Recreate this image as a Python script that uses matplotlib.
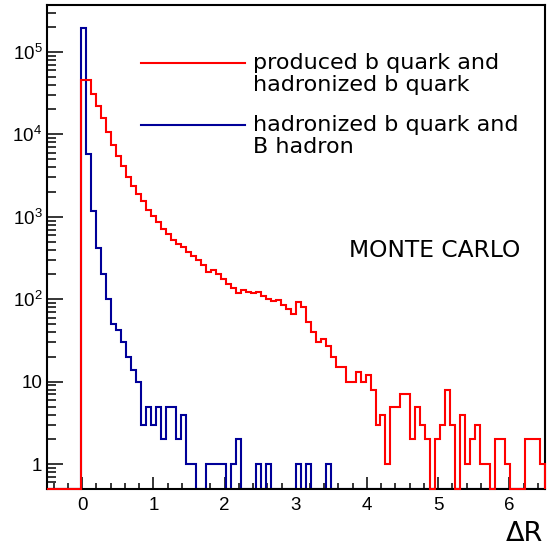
import numpy as np
import matplotlib
matplotlib.use('Agg')
import matplotlib.pyplot as plt
from matplotlib.lines import Line2D
from matplotlib.ticker import FixedLocator, FixedFormatter, LogLocator, NullFormatter, MultipleLocator

# ---- data -------------------------------------------------------------
x_min, x_max, n_bins = -0.5, 6.5, 100

red_counts = [
    0, 0, 0, 0, 0, 0, 0, 45000, 45000, 30500,
    21800, 15700, 10700, 7500, 5500, 4080, 3030, 2380, 1880, 1560,
    1210, 1020, 860, 715, 620, 530, 470, 425, 370, 335,
    300, 260, 213, 225, 200, 175, 155, 136, 118, 129,
    123, 120, 123, 109, 101, 96, 98, 85, 77, 66,
    92, 81, 53, 40, 30, 33, 27, 20, 15, 15,
    10, 10, 13, 10, 12, 8, 3, 4, 1, 5,
    5, 7, 7, 2, 5, 3, 2, 0, 2, 3,
    8, 3, 0, 4, 1, 2, 3, 1, 1, 0,
    2, 2, 1, 0, 0, 0, 2, 2, 2, 1,
]

blue_counts = [
    0, 0, 0, 0, 0, 0, 0, 196000, 5800, 1160,
    415, 202, 100, 50, 42, 30, 20, 14, 10, 3,
    5, 3, 5, 2, 5, 5, 2, 4, 1, 1,
    0, 0, 1, 1, 1, 1, 0, 1, 2, 0,
    0, 0, 1, 0, 1, 0, 0, 0, 0, 0,
    1, 0, 1, 0, 0, 0, 1, 0, 0, 0,
    0, 0, 0, 0, 0, 0, 0, 0, 0, 0,
    0, 0, 0, 0, 0, 0, 0, 0, 0, 0,
    0, 0, 0, 0, 0, 0, 0, 0, 0, 0,
    0, 0, 0, 0, 0, 0, 0, 0, 0, 0,
]

x_tick_values = [0, 1, 2, 3, 4, 5, 6]
x_tick_labels = ['0', '1', '2', '3', '4', '5', '6']
y_tick_values = [1, 10, 100, 1000, 1e4, 1e5]
y_tick_labels = ['1', '10', r'$\mathregular{10^{2}}$', r'$\mathregular{10^{3}}$',
                 r'$\mathregular{10^{4}}$', r'$\mathregular{10^{5}}$']

legend_red = ['produced b quark and', 'hadronized b quark']
legend_blue = ['hadronized b quark and', 'B hadron']
annotation = 'MONTE CARLO'
x_title = 'ΔR'

# ---- style ------------------------------------------------------------
plt.rcParams['mathtext.fontset'] = 'custom'
plt.rcParams['mathtext.rm'] = 'Liberation Sans'
plt.rcParams['mathtext.it'] = 'Liberation Sans:italic'

RED = '#ff0000'
BLUE = '#000099'
y_lo, y_hi = 0.5, 3.7e5
W, H = 548, 546

fig = plt.figure(figsize=(W / 100, H / 100), dpi=100)
ax = fig.add_axes([46.5 / W, 57 / H, 498.5 / W, 484 / H])
ax.set_yscale('log')
ax.set_xlim(x_min, x_max)
ax.set_ylim(y_lo, y_hi)

edges = np.linspace(x_min, x_max, n_bins + 1)
blue_y = np.maximum(np.asarray(blue_counts, float), y_lo)
red_y = np.maximum(np.asarray(red_counts, float), y_lo)
ax.stairs(blue_y, edges, baseline=y_lo, color=BLUE, lw=1.5, zorder=2)
ax.stairs(red_y, edges, baseline=y_lo, color=RED, lw=1.5, zorder=3, clip_on=False)

for s in ax.spines.values():
    s.set_linewidth(1.5)

ax.xaxis.set_major_locator(FixedLocator(x_tick_values))
ax.xaxis.set_major_formatter(FixedFormatter(x_tick_labels))
ax.xaxis.set_minor_locator(MultipleLocator(0.2))
ax.yaxis.set_major_locator(FixedLocator(y_tick_values))
ax.yaxis.set_major_formatter(FixedFormatter(y_tick_labels))
ax.yaxis.set_minor_locator(LogLocator(base=10, subs=np.arange(2, 10), numticks=50))
ax.yaxis.set_minor_formatter(NullFormatter())

ax.tick_params(axis='both', which='both', direction='in', top=False, right=False,
               width=1.1, labelfontfamily='Liberation Sans', labelsize=13.5)
ax.tick_params(axis='x', which='major', length=8.5, pad=5.5)
ax.tick_params(axis='x', which='minor', length=4.3)
ax.tick_params(axis='y', which='major', length=11.5, pad=3)
ax.tick_params(axis='y', which='minor', length=6.5)

# ---- legend (drawn by hand, ROOT style) -------------------------------
def fx(px):
    return px / W

def fy(py):
    return 1 - py / H

fig.add_artist(Line2D([fx(141), fx(245)], [fy(63), fy(63)], color=RED, lw=1.5))
fig.add_artist(Line2D([fx(141), fx(245)], [fy(125), fy(125)], color=BLUE, lw=1.5))
for i, line in enumerate(legend_red):
    fig.text(fx(253), fy(69 + 22 * i), line, fontsize=16, va='baseline',
             family='DejaVu Sans')
for i, line in enumerate(legend_blue):
    fig.text(fx(253), fy(131 + 22 * i), line, fontsize=16, va='baseline',
             family='DejaVu Sans')

fig.text(fx(349), fy(257.3), annotation, fontsize=16.8, va='baseline',
         family='DejaVu Sans')
fig.text(fx(543), fy(541), x_title, fontsize=19.5, va='baseline', ha='right',
         family='DejaVu Sans')

fig.savefig('out.png', dpi=100)
